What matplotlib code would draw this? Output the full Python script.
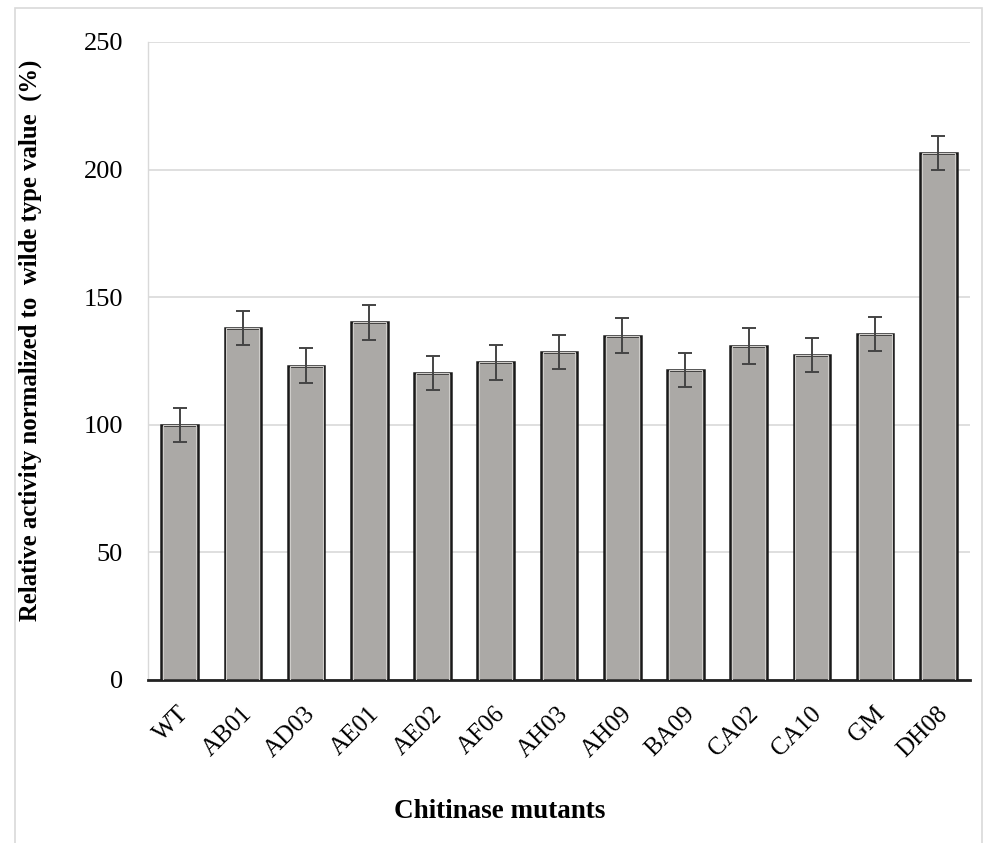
import numpy as np
import matplotlib.pyplot as plt
import matplotlib.transforms as mtransforms
from matplotlib.patches import Rectangle

# %% Data

mutants = ['WT', 'AB01', 'AD03', 'AE01', 'AE02', 'AF06', 'AH03', 'AH09',
           'BA09', 'CA02', 'CA10', 'GM', 'DH08']
activity = [100.0, 137.9, 123.2, 140.2, 120.4, 124.5, 128.5, 134.9,
            121.6, 130.8, 127.4, 135.5, 206.4]
errors = [6.7, 6.7, 6.7, 6.9, 6.7, 6.9, 6.8, 6.8, 6.7, 7.0, 6.7, 6.7, 6.7]

# %% Plot

plt.rcParams['font.family'] = ['Liberation Serif', 'DejaVu Serif']

fig = plt.figure(figsize=(9.84, 8.43), dpi=100, facecolor='w')
ax = fig.add_axes([148 / 984, 1 - 680 / 843, (970 - 148) / 984, (680 - 42) / 843])

x = np.arange(len(mutants))
ax.bar(x, activity, width=0.58, color='#aba9a6', edgecolor='#1a1a1a', linewidth=1.8, zorder=3)
ax.bar(x, activity, width=0.52, color='none', edgecolor='#cfcdca', linewidth=0.8, zorder=3)
ax.errorbar(x, activity, yerr=errors, fmt='none', ecolor='#444444', elinewidth=1.4,
            capsize=5, capthick=1.4, zorder=4)

ax.set_xlim(-0.5, len(mutants) - 0.5)
ax.set_ylim(0, 250)
ax.set_yticks(np.arange(0, 251, 50))
ax.yaxis.grid(True, color='#d9d9d9', linewidth=1.2, zorder=0)
ax.set_axisbelow(True)

for s in ['top', 'right']:
    ax.spines[s].set_visible(False)
ax.spines['left'].set_color('#d9d9d9')
ax.spines['left'].set_linewidth(1.0)
ax.spines['bottom'].set_color('#222222')
ax.spines['bottom'].set_linewidth(2.0)

ax.tick_params(axis='y', length=0, pad=18, labelsize=19)
ax.tick_params(axis='x', length=0, pad=22, labelsize=18)
ax.set_xticks(x)
ax.set_xticklabels(mutants, rotation=45, ha='right', va='center', rotation_mode='anchor')
shift = mtransforms.ScaledTranslation(6 / 100, 0, fig.dpi_scale_trans)
for lab in ax.get_xticklabels():
    lab.set_transform(lab.get_transform() + shift)

ax.set_ylabel('Relative activity normalized to  wilde type value  (%)',
              fontsize=17.8, fontweight='bold')
ax.yaxis.set_label_coords((42 - 148) / 822, (680 - 340) / 638)
ax.set_xlabel('Chitinase mutants', fontsize=19.5, fontweight='bold')
ax.xaxis.set_label_coords((500 - 148) / 822, -(812 - 680) / 638)
ax.xaxis.label.set_va('center')

fig.patches.append(Rectangle((15 / 984, -0.05), (982 - 15) / 984, 1.05 - 8 / 843,
                             transform=fig.transFigure, fill=False,
                             edgecolor='#d9d9d9', linewidth=1.2))

plt.savefig('out.png', dpi=100)
